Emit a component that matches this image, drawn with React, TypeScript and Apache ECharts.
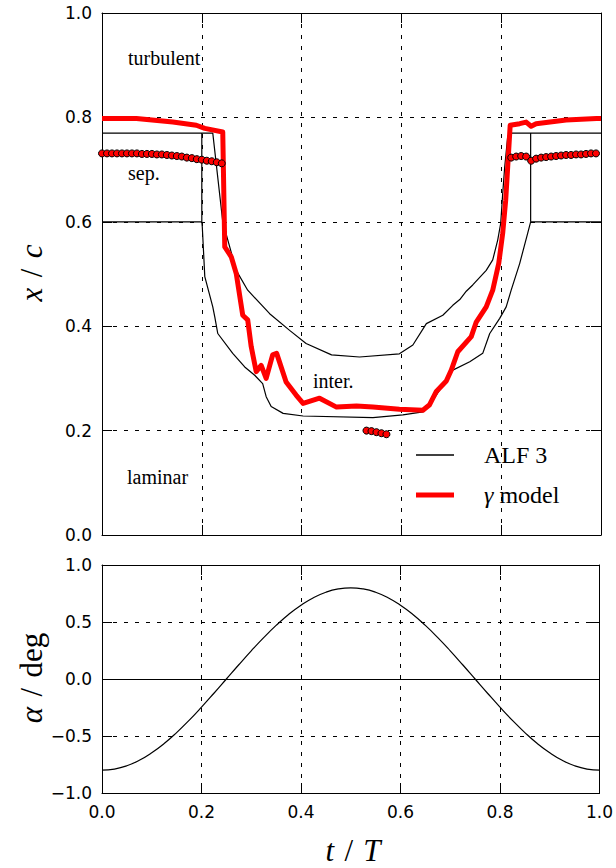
import React, { useEffect, useRef } from "react";
import * as echarts from "echarts";

type Pt = [number, number];

// ALF 3 transition boundaries, x/c over one pitching period t/T
const alfUpper: Pt[] = [
  [0, 0.77], [0.222, 0.77], [0.242, 0.6], [0.269, 0.507], [0.292, 0.469], [0.336, 0.424],
  [0.376, 0.392], [0.409, 0.367], [0.46, 0.345], [0.516, 0.341], [0.596, 0.347], [0.623, 0.364],
  [0.65, 0.405], [0.683, 0.421], [0.703, 0.44], [0.717, 0.451], [0.73, 0.467], [0.743, 0.479],
  [0.77, 0.507], [0.783, 0.527], [0.793, 0.565], [0.799, 0.597], [0.803, 0.654], [0.807, 0.705],
  [0.813, 0.763], [0.817, 0.77], [1, 0.77],
];
const alfLower: Pt[] = [
  [0, 0.6], [0.2, 0.6], [0.201, 0.59], [0.206, 0.495], [0.222, 0.437], [0.226, 0.418],
  [0.232, 0.386], [0.262, 0.348], [0.286, 0.322], [0.306, 0.306], [0.322, 0.29], [0.329, 0.265],
  [0.339, 0.246], [0.363, 0.233], [0.403, 0.228], [0.543, 0.225], [0.603, 0.23], [0.643, 0.236],
  [0.663, 0.258], [0.683, 0.287], [0.697, 0.313], [0.737, 0.332], [0.763, 0.348], [0.777, 0.386],
  [0.797, 0.415], [0.81, 0.437], [0.82, 0.469], [0.837, 0.52], [0.853, 0.578], [0.859, 0.6], [1, 0.6],
];
const alfLeftEdge: Pt[] = [[0.2, 0.77], [0.2, 0.6]];
const alfRightEdge: Pt[] = [[0.859, 0.77], [0.859, 0.6]];

// gamma transition model
const gammaModel: Pt[] = [
  [0, 0.798], [0.069, 0.798], [0.142, 0.791], [0.189, 0.785], [0.206, 0.779], [0.242, 0.772],
  [0.246, 0.552], [0.259, 0.533], [0.269, 0.501], [0.282, 0.421], [0.292, 0.412], [0.299, 0.361],
  [0.309, 0.313], [0.319, 0.325], [0.329, 0.3], [0.342, 0.345], [0.35, 0.348], [0.369, 0.293],
  [0.389, 0.268], [0.403, 0.252], [0.436, 0.262], [0.47, 0.245], [0.51, 0.247], [0.543, 0.245],
  [0.596, 0.241], [0.643, 0.239], [0.656, 0.249], [0.67, 0.275], [0.69, 0.295], [0.7, 0.316],
  [0.713, 0.351], [0.74, 0.38], [0.75, 0.408], [0.77, 0.437], [0.783, 0.469], [0.795, 0.52],
  [0.803, 0.578], [0.809, 0.641], [0.813, 0.705], [0.818, 0.785], [0.837, 0.788], [0.85, 0.791],
  [0.86, 0.783], [0.87, 0.788], [0.93, 0.795], [0.991, 0.798], [1, 0.798],
];

// separation points
const sepLeft: Pt[] = [
  [0, 0.731], [0.01, 0.731], [0.02, 0.731], [0.03, 0.731], [0.04, 0.731], [0.05, 0.731],
  [0.06, 0.731], [0.07, 0.731], [0.08, 0.73], [0.09, 0.73], [0.1, 0.73], [0.11, 0.729],
  [0.12, 0.729], [0.13, 0.728], [0.14, 0.727], [0.15, 0.726], [0.16, 0.725], [0.17, 0.723],
  [0.18, 0.722], [0.19, 0.72], [0.2, 0.719], [0.21, 0.717], [0.22, 0.716], [0.23, 0.714], [0.24, 0.712],
];
const sepMid: Pt[] = [[0.53, 0.2], [0.54, 0.199], [0.55, 0.197], [0.56, 0.195], [0.57, 0.193]];
const sepRight: Pt[] = [
  [0.82, 0.723], [0.83, 0.725], [0.84, 0.726], [0.85, 0.725], [0.86, 0.717], [0.87, 0.721],
  [0.88, 0.723], [0.89, 0.724], [0.9, 0.725], [0.91, 0.726], [0.92, 0.727], [0.93, 0.728],
  [0.94, 0.728], [0.95, 0.729], [0.96, 0.729], [0.97, 0.73], [0.98, 0.731], [0.99, 0.731],
];

// pitching motion
const phaseT = [
  0, 0.025, 0.05, 0.075, 0.1, 0.125, 0.15, 0.175, 0.2, 0.225, 0.25, 0.275, 0.3, 0.325, 0.35,
  0.375, 0.4, 0.425, 0.45, 0.475, 0.5, 0.525, 0.55, 0.575, 0.6, 0.625, 0.65, 0.675, 0.7, 0.725,
  0.75, 0.775, 0.8, 0.825, 0.85, 0.875, 0.9, 0.925, 0.95, 0.975, 1,
];
const alphaDeg = [
  -0.8, -0.79, -0.761, -0.713, -0.647, -0.566, -0.47, -0.363, -0.247, -0.125, 0, 0.125, 0.247,
  0.363, 0.47, 0.566, 0.647, 0.713, 0.761, 0.79, 0.8, 0.79, 0.761, 0.713, 0.647, 0.566, 0.47,
  0.363, 0.247, 0.125, 0, -0.125, -0.247, -0.363, -0.47, -0.566, -0.647, -0.713, -0.761, -0.79, -0.8,
];

const SANS = "DejaVu Sans";
const SERIF = "Liberation Serif";
const fmt = (v: number) => (v < 0 ? "\u2212" : "") + Math.abs(v).toFixed(1);
const SP = "\u2004";

const frameAxis = (extra: any) => ({
  type: "value",
  axisLine: { show: true, onZero: false, lineStyle: { color: "#000", width: 1 } },
  axisTick: { show: true, inside: true, length: 10, lineStyle: { color: "#000", width: 1 } },
  splitLine: { show: false },
  axisLabel: { show: false },
  ...extra,
});
const gridLine = { show: true, lineStyle: { color: "#000", width: 1, type: [4, 7] } };
const tickLabel = { show: true, color: "#000", fontFamily: SANS, fontSize: 17, margin: 10, formatter: fmt };

export default function App() {
  const ref = useRef<HTMLDivElement>(null);

  useEffect(() => {
    if (!ref.current) return;
    const chart = echarts.init(ref.current, undefined, { renderer: "svg" });
    const black = { color: "#000", width: 1.2 };
    const alfSeries = (data: Pt[]) => ({
      name: "ALF 3",
      type: "line",
      xAxisIndex: 0,
      yAxisIndex: 0,
      data,
      symbol: "none",
      color: "#000",
      lineStyle: black,
      z: 2,
    });
    const sepSeries = (data: Pt[]) => ({
      name: "sep.",
      type: "scatter",
      xAxisIndex: 0,
      yAxisIndex: 0,
      data,
      symbol: "circle",
      symbolSize: 7,
      itemStyle: { color: "#ff0000", borderColor: "#000", borderWidth: 1, opacity: 1 },
      z: 4,
    });
    const legendBase = {
      left: 416,
      orient: "vertical",
      padding: 0,
      itemWidth: 38,
      icon: "rect",
      selectedMode: false,
      itemStyle: { borderWidth: 0 },
      textStyle: {
        color: "#000",
        fontFamily: SERIF,
        fontSize: 24,
        padding: [0, 0, 0, 25],
        rich: { i: { fontFamily: SERIF, fontStyle: "italic", fontSize: 24, color: "#000" } },
      },
      formatter: (name: string) => (name === "γ model" ? "{i|γ} model" : name),
    };
    const regionText = (text: string, x: number, y: number) => ({
      type: "text",
      x,
      y,
      style: { text, fontFamily: SERIF, fontSize: 20, fill: "#000", align: "left", verticalAlign: "middle" },
    });
    const italic = { fontFamily: SERIF, fontStyle: "italic", fontSize: 31, fill: "#000" };
    const axisName = (text: string, x: number, y: number, rotation: number) => ({
      type: "text",
      x,
      y,
      rotation,
      style: {
        text,
        fontFamily: SERIF,
        fontSize: 31,
        fill: "#000",
        align: "center",
        verticalAlign: "middle",
        rich: { i: italic },
      },
    });

    chart.setOption({
      animation: false,
      backgroundColor: "#fff",
      grid: [
        { left: 102, right: 15, top: 13, height: 522 },
        { left: 102, right: 15, top: 565, height: 228 },
      ],
      xAxis: [
        frameAxis({ gridIndex: 0, position: "bottom", min: 0, max: 1, interval: 0.2, splitLine: gridLine }),
        frameAxis({ gridIndex: 0, position: "top", min: 0, max: 1, interval: 0.2 }),
        frameAxis({ gridIndex: 1, position: "bottom", min: 0, max: 1, interval: 0.2, splitLine: gridLine, axisLabel: tickLabel }),
        frameAxis({ gridIndex: 1, position: "top", min: 0, max: 1, interval: 0.2 }),
      ],
      yAxis: [
        frameAxis({ gridIndex: 0, position: "left", min: 0, max: 1, interval: 0.2, splitLine: gridLine, axisLabel: tickLabel }),
        frameAxis({ gridIndex: 0, position: "right", min: 0, max: 1, interval: 0.2 }),
        frameAxis({ gridIndex: 1, position: "left", min: -1, max: 1, interval: 0.5, splitLine: gridLine, axisLabel: tickLabel }),
        frameAxis({ gridIndex: 1, position: "right", min: -1, max: 1, interval: 0.5 }),
      ],
      legend: [
        { ...legendBase, top: 443, itemHeight: 1.5, data: ["ALF 3"] },
        { ...legendBase, top: 483, itemHeight: 5, data: ["γ model"] },
      ],
      series: [
        alfSeries(alfUpper),
        alfSeries(alfLower),
        alfSeries(alfLeftEdge),
        alfSeries(alfRightEdge),
        {
          name: "γ model",
          type: "line",
          xAxisIndex: 0,
          yAxisIndex: 0,
          data: gammaModel,
          symbol: "none",
          color: "#ff0000",
          lineStyle: { color: "#ff0000", width: 5, join: "round" },
          z: 3,
        },
        sepSeries(sepLeft),
        sepSeries(sepMid),
        sepSeries(sepRight),
        {
          name: "alpha",
          type: "line",
          xAxisIndex: 2,
          yAxisIndex: 2,
          data: phaseT.map((t, i) => [t, alphaDeg[i]]),
          symbol: "none",
          smooth: true,
          color: "#000",
          lineStyle: black,
          markLine: {
            silent: true,
            symbol: "none",
            label: { show: false },
            lineStyle: { color: "#000", width: 1, type: "solid" },
            data: [{ yAxis: 0 }],
          },
        },
      ],
      graphic: [
        regionText("turbulent", 128, 58),
        regionText("sep.", 128, 173),
        regionText("inter.", 313, 381),
        regionText("laminar", 127, 477),
        axisName(`{i|x}${SP}/${SP}{i|c}`, 31, 273, Math.PI / 2),
        axisName(`{i|α}${SP}/${SP}deg`, 31, 678, Math.PI / 2),
        axisName(`{i|t}${SP}/${SP}{i|T}`, 353, 850, 0),
      ],
    });
    return () => chart.dispose();
  }, []);

  return (
    <div
      ref={ref}
      style={{ position: "fixed", left: 0, top: 0, width: 616, height: 868, background: "#fff" }}
    />
  );
}
